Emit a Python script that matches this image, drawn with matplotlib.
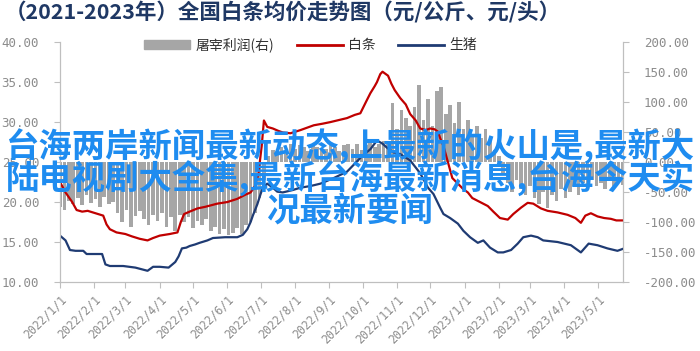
import datetime as dt
import matplotlib
matplotlib.use("Agg")
import matplotlib.pyplot as plt
import matplotlib.patches as mpatches
import matplotlib.lines as mlines

plt.rcParams['font.family'] = ['Noto Sans CJK SC', 'DejaVu Sans']

start = dt.date(2022, 1, 1)

# 白条 (days from 2022-01-01, yuan/kg)
red_days = [0, 5, 11, 15, 20, 25, 32, 39, 42, 45, 51, 59, 65, 72, 79, 84, 90, 99, 106, 109,
            112, 117, 124, 131, 142, 151, 160, 167, 172, 176, 179, 182, 184, 187, 192, 197,
            201, 208, 217, 229, 237, 244, 253, 259, 266, 271, 276, 280, 284, 286, 289, 291,
            294, 296, 299, 302, 307, 312, 316, 321, 325, 330, 334, 338, 341, 343, 346, 350,
            354, 359, 364, 368, 372, 379, 386, 391, 397, 404, 409, 416, 422, 427, 434, 440,
            449, 458, 465, 470, 474, 479, 485, 491, 497, 502, 508]
red_vals = [22.5, 21.2, 20.0, 19.0, 18.8, 18.9, 18.6, 18.3, 17.2, 16.6, 16.2, 16.0, 15.7, 15.4,
            15.2, 15.5, 15.8, 16.0, 16.2, 17.5, 18.5, 18.8, 19.2, 19.4, 19.8, 20.0, 20.4, 20.9,
            21.2, 22.0, 23.5, 27.0, 30.2, 29.4, 29.2, 28.9, 28.7, 28.6, 29.0, 29.6, 29.8, 30.0,
            30.3, 30.5, 30.9, 31.1, 32.5, 33.6, 34.5, 35.0, 36.0, 36.3, 36.0, 35.8, 34.8, 34.0,
            33.0, 32.2, 31.0, 30.2, 29.2, 29.0, 29.2, 29.1, 28.8, 28.0, 27.0, 25.0, 23.0, 22.3,
            21.6, 21.2, 20.5, 20.0, 19.5, 18.8, 18.0, 17.8, 18.5, 19.3, 19.9, 19.8, 19.2, 18.9,
            18.7, 18.4, 18.0, 17.4, 18.3, 18.6, 18.2, 18.0, 17.9, 17.7, 17.7]

# 生猪 (yuan/kg)
blue_days = [0, 5, 9, 14, 21, 24, 32, 38, 41, 45, 57, 68, 79, 84, 90, 98, 104, 107, 110, 114,
             117, 122, 126, 133, 138, 149, 160, 165, 169, 172, 174, 178, 181, 183, 187, 192,
             196, 201, 210, 217, 226, 235, 247, 259, 266, 273, 280, 286, 291, 295, 301, 307,
             316, 325, 332, 337, 343, 346, 352, 359, 364, 370, 377, 382, 388, 395, 400, 407,
             413, 418, 425, 431, 436, 449, 461, 470, 477, 485, 494, 503, 509]
blue_vals = [15.8, 15.2, 14.0, 13.9, 13.9, 13.5, 13.5, 13.5, 12.2, 12.0, 12.0, 11.8, 11.4, 11.9,
             11.9, 11.8, 12.5, 13.2, 14.2, 14.3, 14.5, 14.7, 14.9, 15.2, 15.5, 15.6, 15.6, 15.9,
             16.6, 17.5, 18.3, 19.7, 21.0, 21.8, 22.3, 21.8, 21.3, 21.2, 21.5, 21.8, 22.0, 22.3,
             23.0, 23.8, 24.8, 25.8, 26.6, 27.7, 27.3, 26.8, 26.2, 26.0, 25.2, 23.6, 21.8, 21.0,
             19.3, 18.5, 18.0, 17.3, 16.4, 15.6, 14.9, 15.2, 14.3, 13.7, 13.7, 14.0, 14.8, 15.6,
             15.8, 15.6, 15.2, 15.0, 14.6, 13.7, 14.8, 14.6, 14.2, 13.9, 14.2]

# 屠宰利润 (yuan/head), every 4 days from 2022-01-01
profit_vals = [-75, -80, -65, -70, -60, -72, -55, -68, -62, -75, -58, -70, -66,
               -85, -100, -80, -108, -90, -82, -95, -105, -88, -98, -85, -108, -92, -115,
               -88, -100, -92, -110, -98, -105, -95, -115, -108, -120, -112, -122, -118,
               -110, -120, -105, -100, -85, -60, -30,
               10, 20, 15, 25, 18, 30, 22, 28, 25, 18, 30, 25, 20, 22, 30, 25, 18, 28, 30,
               22, 30, 20, 28, 32, 25, 30, 35, 30,
               98, 55, 86, 74, 60, 92, 128, 70, 105, 60, 118, 125, 80, 95, 65, 100, 55, 70,
               45, 60, 40, 55, 35, 20, 10,
               -20, -35, -50, -30, -45, -55, -40, -60, -70, -50, -76, -55, -65, -45, -60,
               -50, -40, -55, -35, -45, -30, -40, -35, -45, -30, -40, -35, -38]

tick_dates = [dt.date(2022 + (m - 1) // 12, (m - 1) % 12 + 1, 1) for m in range(1, 18)]
tick_labels = [f"{d.year}/{d.month}/{d.day}" for d in tick_dates]

red_x = [start + dt.timedelta(days=d) for d in red_days]
blue_x = [start + dt.timedelta(days=d) for d in blue_days]
profit_x = [start + dt.timedelta(days=4 * i) for i in range(len(profit_vals))]

fig = plt.figure(figsize=(7, 3.51), dpi=100)
ax = fig.add_axes([0.0857, 0.1966, 0.8043, 0.6834])
ax2 = ax.twinx()

grey_txt = '#8c8c8c'
spine_c = '#bfbfbf'

ax2.bar(profit_x, profit_vals, width=3.3, color='#a6a6a6', linewidth=0)
ax.plot(red_x, red_vals, color='#c00000', lw=1.6)
ax.plot(blue_x, blue_vals, color='#1f3b73', lw=1.6)
ax.set_zorder(ax2.get_zorder() + 1)
ax.patch.set_visible(False)

ax.set_xlim(start, start + dt.timedelta(days=508.6))
ax.set_ylim(10, 40)
ax2.set_ylim(-200, 200)
ax.set_yticks(range(10, 41, 5))
ax.set_yticklabels([f"{v:.2f}" for v in range(10, 41, 5)])
ax2.set_yticks(range(-200, 201, 50))
ax2.set_yticklabels([f"{v:.2f}" for v in range(-200, 201, 50)])
ax.set_xticks(tick_dates)
ax.set_xticklabels(tick_labels, rotation=45, ha='right', va='top', rotation_mode='anchor')

for a in (ax, ax2):
    a.spines['top'].set_visible(False)
    for s in ('left', 'right', 'bottom'):
        a.spines[s].set_color(spine_c)
    a.tick_params(colors=spine_c, labelcolor=grey_txt, length=4)
    for lab in a.get_yticklabels():
        lab.set_family('DejaVu Sans Mono')
        lab.set_fontsize(9)
for lab in ax.get_xticklabels():
    lab.set_family('DejaVu Sans Mono')
    lab.set_fontsize(8.3)
ax.tick_params(axis='y', pad=11)
ax2.tick_params(axis='y', pad=11)
ax.tick_params(axis='x', pad=4)

handles = [mpatches.Patch(color='#a6a6a6', label='屠宰利润(右)'),
           mlines.Line2D([], [], color='#c00000', lw=2, label='白条'),
           mlines.Line2D([], [], color='#1f3b73', lw=2, label='生猪')]
fig.legend(handles=handles, loc='center', bbox_to_anchor=(0.444, 0.872), ncol=3,
           frameon=False, fontsize=10, handlelength=3.3, handleheight=0.6,
           columnspacing=1.6, handletextpad=0.4, labelcolor='#333333')

fig.text(0.007, 0.963, '（2021-2023年）全国白条均价走势图（元/公斤、元/头）',
         fontsize=15.5, fontweight='bold', color='#1f3864', ha='left', va='center')

overlay = ['台海两岸新闻最新动态,上最新的火山是,最新大',
           '陆电视剧大全集,最新台海最新消息,台海今天实',
           '况最新要闻']
for line, y in zip(overlay, [0.581, 0.489, 0.400]):
    fig.text(0.50, y, line, fontsize=24, fontweight='bold', color='#1e8cf0',
             ha='center', va='center')

fig.savefig('out.png', dpi=100)
